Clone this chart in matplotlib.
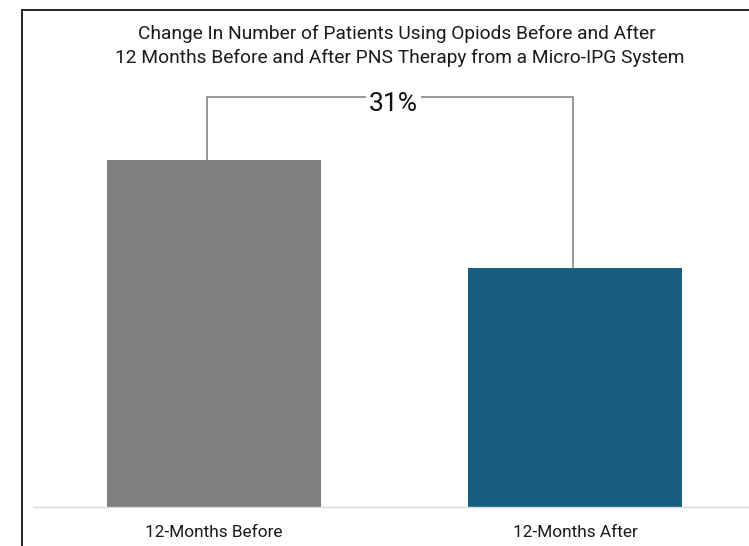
import matplotlib
matplotlib.use("Agg")
import matplotlib.pyplot as plt
from matplotlib.lines import Line2D

plt.rcParams['font.family'] = ['Roboto', 'DejaVu Sans']

# data
categories = ["12-Months Before", "12-Months After"]
patients = [100, 69]
bar_colors = ["#7f7f7f", "#185e7f"]
change_label = "31%"
title_lines = ["Change In Number of Patients Using Opiods Before and After",
               "12 Months Before and After PNS Therapy from a Micro-IPG System"]

fig = plt.figure(figsize=(7.49, 5.46), dpi=100)
ax = fig.add_axes([34 / 749, 39 / 546, (749 - 34) / 749, 497 / 546])

x = list(range(len(categories)))
ax.bar(x, patients, width=0.593, color=bar_colors, zorder=2)

ax.set_xlim(-0.4986, 1.482)
ax.set_ylim(0, max(patients) * 1.432)

# bracket showing the change
top = max(patients) * 1.181
xl, xr = x[0] - 0.019, x[1] - 0.006
bcol = "#7a7a7a"
ax.plot([xl, xl, xr, xr], [patients[0], top, top, patients[1]], color=bcol, lw=1.1, zorder=3)
ax.text((xl + xr) / 2 + 0.01, max(patients) * 1.141, change_label, ha="center", va="baseline",
        fontsize=19, color="#111111", zorder=4,
        bbox=dict(facecolor="white", edgecolor="none", pad=2))

# axes styling
for s in ["top", "right", "left"]:
    ax.spines[s].set_visible(False)
ax.spines["bottom"].set_color("#d9d9d9")
ax.spines["bottom"].set_linewidth(1)
ax.set_yticks([])
ax.set_xticks(x)
ax.set_xticklabels(categories, fontsize=12.4, color="#1a1a1a")
ax.tick_params(axis="x", length=0, pad=13)

# title
fig.text(397 / 749, (546 - 39) / 546, title_lines[0], ha="center", va="baseline",
         fontsize=13.8, color="#1a1a1a")
fig.text(400 / 749, (546 - 63) / 546, title_lines[1], ha="center", va="baseline",
         fontsize=13.8, color="#1a1a1a")

# frame on left and top
fig.add_artist(Line2D([22 / 749, 22 / 749], [0, 1 - 10 / 546], color="black", lw=1.2))
fig.add_artist(Line2D([22 / 749, 1], [1 - 10 / 546, 1 - 10 / 546], color="black", lw=1.2))

fig.savefig("out.png", dpi=100)
